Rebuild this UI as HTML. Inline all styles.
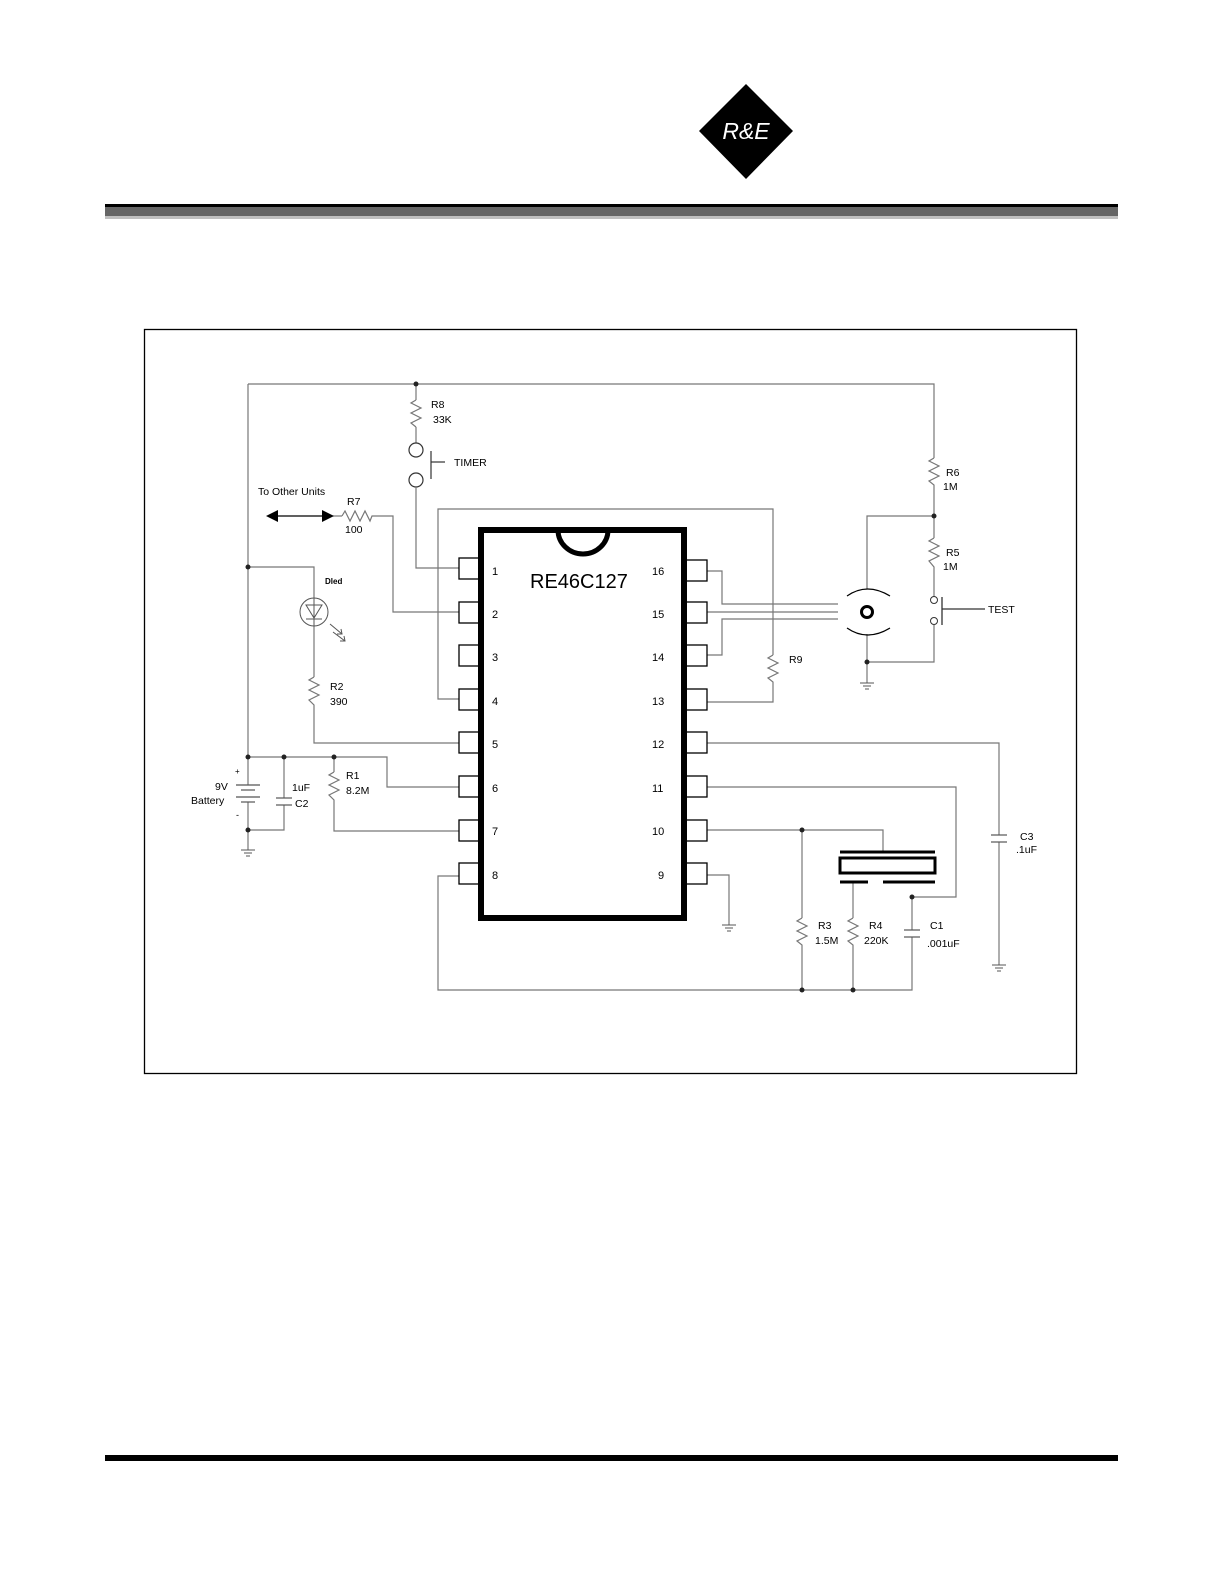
<!DOCTYPE html>
<html><head><meta charset="utf-8"><style>
html,body{margin:0;padding:0;background:#fff}
svg{display:block}
text{font-family:"Liberation Sans",sans-serif;fill:#000}
</style></head><body>
<svg width="1224" height="1584" viewBox="0 0 1224 1584" xmlns="http://www.w3.org/2000/svg">
<polygon points="746,84 793,131 746,179 699,131" fill="#000"/>
<text x="746" y="139" font-size="23" font-style="italic" text-anchor="middle" style="fill:#fff">R&amp;E</text>
<rect x="105" y="204" width="1013" height="3" fill="#000"/>
<rect x="105" y="207" width="1013" height="9" fill="#666"/>
<rect x="105" y="216" width="1013" height="3" fill="#c0c0c0"/>
<rect x="105" y="1455" width="1013" height="6" fill="#000"/>
<rect x="144.5" y="329.5" width="932" height="744" fill="none" stroke="#000" stroke-width="1.3"/>

<g fill="none" stroke="#777" stroke-width="1.2">
<polyline points="248,384 934,384 934,458"/>
<line x1="248" y1="384" x2="248" y2="850"/>
<line x1="416" y1="384" x2="416" y2="400"/>
<polyline points="416,400 411,403 421,408 411,413 421,418 411,423 416,427"/>
<line x1="416" y1="427" x2="416" y2="443"/>
<circle cx="416" cy="450" r="7" stroke="#333"/>
<circle cx="416" cy="480" r="7" stroke="#333"/>
<polyline points="416,487 416,568 459,568"/>
<line x1="431" y1="451" x2="431" y2="479" stroke="#333"/>
<line x1="431" y1="462" x2="445" y2="462" stroke="#333"/>
<line x1="272" y1="516" x2="330" y2="516" stroke="#000"/>
<line x1="330" y1="516" x2="342" y2="516"/>
<polyline points="342,516 345,511 350,521 355,511 360,521 365,511 370,521 372,516 393,516 393,612 459,612"/>
<polyline points="459,699 438,699 438,509 773,509 773,655"/>
<polyline points="773,655 768,658 778,663 768,668 778,673 768,678 773,682 773,702 707,702"/>
<polyline points="248,567 314,567 314,598"/>
<line x1="314" y1="626" x2="314" y2="677"/>
<polyline points="314,677 309,680 319,685 309,690 319,695 309,700 314,705 314,743 459,743"/>
<polyline points="248,757 387,757 387,787 459,787"/>
<polyline points="334,757 334,772"/>
<polyline points="334,772 329,775 339,780 329,785 339,790 329,795 334,800 334,831 459,831"/>
<polyline points="248,830 284,830 284,805"/>
<line x1="284" y1="757" x2="284" y2="798"/>
<polyline points="459,876 438,876 438,990 912,990 912,937"/>
<polyline points="707,875 729,875 729,925"/>
<polyline points="707,571 722,571 722,604 838,604"/>
<line x1="707" y1="612" x2="838" y2="612"/>
<polyline points="707,655 722,655 722,619 838,619"/>
<polyline points="934,458 929,461 939,466 929,471 939,476 929,481 934,485 934,538"/>
<polyline points="934,538 929,541 939,546 929,551 939,556 929,561 934,567 934,597"/>
<polyline points="934,516 867,516 867,589"/>
<polyline points="934,625 934,662 867,662 867,683"/>
<line x1="867" y1="634" x2="867" y2="662"/>
<polyline points="707,743 999,743 999,835"/>
<line x1="999" y1="842" x2="999" y2="965"/>
<polyline points="707,787 956,787 956,897 912,897 912,930"/>
<polyline points="707,830 883,830 883,852"/>
<line x1="802" y1="830" x2="802" y2="918"/>
<polyline points="802,918 797,921 807,926 797,931 807,936 797,941 802,945 802,990"/>
<line x1="853" y1="882" x2="853" y2="918"/>
<polyline points="853,918 848,921 858,926 848,931 858,936 848,941 853,945 853,990"/>
</g>

<polygon points="266,516 278,510 278,522" fill="#000"/>
<polygon points="334,516 322,510 322,522" fill="#000"/>

<g fill="#222">
<circle cx="416" cy="384" r="2.5"/><circle cx="248" cy="567" r="2.5"/>
<circle cx="248" cy="757" r="2.5"/><circle cx="284" cy="757" r="2.5"/><circle cx="334" cy="757" r="2.5"/>
<circle cx="248" cy="830" r="2.5"/><circle cx="934" cy="516" r="2.5"/><circle cx="867" cy="662" r="2.5"/>
<circle cx="802" cy="830" r="2.5"/><circle cx="912" cy="897" r="2.5"/>
<circle cx="802" cy="990" r="2.5"/><circle cx="853" cy="990" r="2.5"/>
</g>

<g fill="none" stroke="#555" stroke-width="1">
<circle cx="314" cy="612" r="14"/>
<polygon points="306,605 322,605 314,618"/>
<line x1="306" y1="619" x2="322" y2="619"/>
<line x1="314" y1="598" x2="314" y2="626"/>
<line x1="330" y1="624" x2="342" y2="634"/><polyline points="337,634 342,634 341,629"/>
<line x1="333" y1="632" x2="345" y2="641"/><polyline points="340,641 345,641 344,636"/>
</g>

<g stroke="#555" stroke-width="1.2">
<line x1="276" y1="798" x2="292" y2="798"/><line x1="276" y1="805" x2="292" y2="805"/>
<line x1="991" y1="835" x2="1007" y2="835"/><line x1="991" y1="842" x2="1007" y2="842"/>
<line x1="904" y1="930" x2="920" y2="930"/><line x1="904" y1="937" x2="920" y2="937"/>
</g>
<rect x="244" y="785" width="8" height="17" fill="#fff"/>
<g stroke="#555" stroke-width="1.2">
<line x1="236" y1="785" x2="260" y2="785"/><line x1="241" y1="790" x2="255" y2="790"/>
<line x1="236" y1="797" x2="260" y2="797"/><line x1="241" y1="802" x2="255" y2="802"/>
</g>

<g stroke="#555" stroke-width="1">
<line x1="241" y1="850" x2="255" y2="850"/><line x1="244" y1="853" x2="252" y2="853"/><line x1="246" y1="856" x2="250" y2="856"/>
<line x1="722" y1="925" x2="736" y2="925"/><line x1="725" y1="928" x2="733" y2="928"/><line x1="727" y1="931" x2="731" y2="931"/>
<line x1="860" y1="683" x2="874" y2="683"/><line x1="863" y1="686" x2="871" y2="686"/><line x1="865" y1="689" x2="869" y2="689"/>
<line x1="992" y1="965" x2="1006" y2="965"/><line x1="995" y1="968" x2="1003" y2="968"/><line x1="997" y1="971" x2="1001" y2="971"/>
</g>

<circle cx="867" cy="612" r="5.5" fill="none" stroke="#000" stroke-width="3"/>
<path d="M847,596 Q867,582 890,596" fill="none" stroke="#000" stroke-width="1.2"/>
<path d="M847,628 Q867,642 890,628" fill="none" stroke="#000" stroke-width="1.2"/>
<circle cx="934" cy="600" r="3.5" fill="#fff" stroke="#333"/>
<circle cx="934" cy="621" r="3.5" fill="#fff" stroke="#333"/>
<line x1="942" y1="597" x2="942" y2="625" stroke="#333" stroke-width="1.3"/>
<line x1="942" y1="609" x2="985" y2="609" stroke="#333" stroke-width="1.3"/>

<g stroke="#000" fill="none">
<line x1="840" y1="852" x2="935" y2="852" stroke-width="3"/>
<rect x="840" y="858" width="95" height="15" stroke-width="3"/>
<line x1="840" y1="882" x2="868" y2="882" stroke-width="3"/>
<line x1="883" y1="882" x2="935" y2="882" stroke-width="3"/>
</g>

<g fill="#fff" stroke="#000" stroke-width="1.3">
<rect x="459" y="558" width="21" height="21"/><rect x="459" y="602" width="21" height="21"/>
<rect x="459" y="645" width="21" height="21"/><rect x="459" y="689" width="21" height="21"/>
<rect x="459" y="732" width="21" height="21"/><rect x="459" y="776" width="21" height="21"/>
<rect x="459" y="820" width="21" height="21"/><rect x="459" y="863" width="21" height="21"/>
<rect x="686" y="560" width="21" height="21"/><rect x="686" y="602" width="21" height="21"/>
<rect x="686" y="645" width="21" height="21"/><rect x="686" y="689" width="21" height="21"/>
<rect x="686" y="732" width="21" height="21"/><rect x="686" y="776" width="21" height="21"/>
<rect x="686" y="820" width="21" height="21"/><rect x="686" y="863" width="21" height="21"/>
</g>
<rect x="481" y="530" width="203" height="388" fill="#fff" stroke="#000" stroke-width="6"/>
<path d="M558,530 A25,24 0 0 0 608,530" fill="none" stroke="#000" stroke-width="5"/>
<text x="530" y="588" font-size="20">RE46C127</text>
<g font-size="11">
<text x="492" y="575">1</text><text x="492" y="618">2</text><text x="492" y="661">3</text><text x="492" y="705">4</text>
<text x="492" y="748">5</text><text x="492" y="792">6</text><text x="492" y="835">7</text><text x="492" y="879">8</text>
<text x="652" y="575">16</text><text x="652" y="618">15</text><text x="652" y="661">14</text><text x="652" y="705">13</text>
<text x="652" y="748">12</text><text x="652" y="792">11</text><text x="652" y="835">10</text><text x="658" y="879">9</text>
</g>

<g font-size="10.5" style="fill:#222">
<text x="431" y="408">R8</text><text x="433" y="423">33K</text>
<text x="454" y="466">TIMER</text>
<text x="258" y="495">To Other Units</text>
<text x="347" y="505">R7</text><text x="345" y="533">100</text>
<text x="325" y="584" font-size="8" font-weight="bold">Dled</text>
<text x="330" y="690">R2</text><text x="330" y="705">390</text>
<text x="346" y="779">R1</text><text x="346" y="794">8.2M</text>
<text x="292" y="791">1uF</text><text x="295" y="807">C2</text>
<text x="215" y="790">9V</text><text x="191" y="804">Battery</text>
<text x="235" y="774" font-size="8">+</text><text x="236" y="818" font-size="9">-</text>
<text x="946" y="476">R6</text><text x="943" y="490">1M</text>
<text x="946" y="556">R5</text><text x="943" y="570">1M</text>
<text x="988" y="613">TEST</text>
<text x="789" y="663">R9</text>
<text x="1020" y="840">C3</text><text x="1016" y="853">.1uF</text>
<text x="818" y="929">R3</text><text x="815" y="944">1.5M</text>
<text x="869" y="929">R4</text><text x="864" y="944">220K</text>
<text x="930" y="929">C1</text><text x="927" y="947">.001uF</text>
</g>
</svg>
</body></html>
